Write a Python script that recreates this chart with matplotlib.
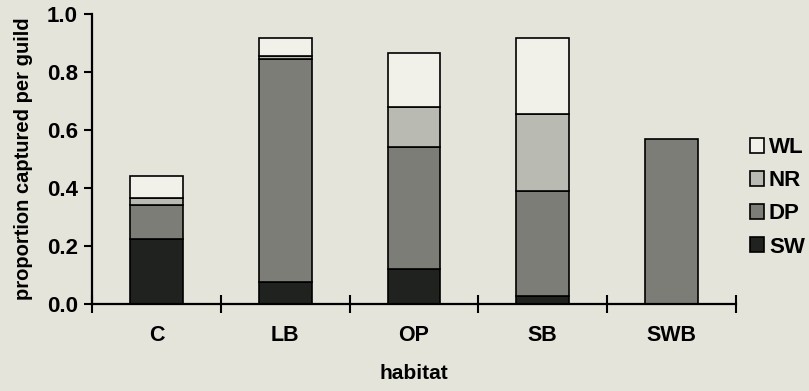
import matplotlib
matplotlib.use("Agg")
import matplotlib.pyplot as plt
import numpy as np

plt.rcParams['font.family'] = ['Liberation Sans', 'DejaVu Sans']
plt.rcParams['font.weight'] = 'bold'

habitats = ["C", "LB", "OP", "SB", "SWB"]
guilds = ["SW", "DP", "NR", "WL"]
sw = [0.225, 0.077, 0.120, 0.028, 0.0]
dp = [0.115, 0.767, 0.422, 0.362, 0.568]
nr = [0.027, 0.011, 0.138, 0.265, 0.0]
wl = [0.074, 0.062, 0.184, 0.263, 0.0]
series = [sw, dp, nr, wl]
colors = ["#1f221f", "#7c7d76", "#b9bab2", "#f1f1ea"]
yticks = [0.0, 0.2, 0.4, 0.6, 0.8, 1.0]

bg = "#e4e4da"
fig = plt.figure(figsize=(8.09, 3.91), dpi=100, facecolor=bg)
ax = fig.add_axes([92/809, 1-304/391, (736-92)/809, (304-14)/391])
ax.set_facecolor(bg)

x = np.arange(len(habitats))
bottom = np.zeros(len(habitats))
handles = []
for vals, col, name in zip(series, colors, guilds):
    vals = np.array(vals)
    mask = vals > 0
    b = ax.bar(x[mask], vals[mask], bottom=bottom[mask], width=0.41, color=col,
               edgecolor="black", linewidth=1.2, label=name, zorder=2)
    handles.append(b)
    bottom += vals

ax.set_xlim(-0.5, 4.5)
ax.set_ylim(0, 1.0)
ax.set_yticks(yticks)
ax.set_yticklabels([f"{v:.1f}" for v in yticks])
ax.set_xticks(x)
ax.set_xticklabels(habitats)
ax.set_xticks(np.arange(-0.5, 5.0, 1.0), minor=True)
ax.tick_params(axis='x', which='major', length=0, pad=15, labelsize=15.5)
ax.tick_params(axis='x', which='minor', direction='inout', length=13, width=1.5)
ax.tick_params(axis='y', which='major', direction='out', length=6, width=1.5, pad=4, labelsize=16)
for s in ['top', 'right']:
    ax.spines[s].set_visible(False)
for s in ['left', 'bottom']:
    ax.spines[s].set_linewidth(1.6)

ax.set_xlabel("habitat", fontsize=15, fontweight='bold', labelpad=13)
ax.set_ylabel("proportion captured per guild", fontsize=14.5, fontweight='bold', labelpad=10)

leg = fig.legend(handles[::-1], guilds[::-1], loc='upper left',
                 bbox_to_anchor=(750/809, 1-137/391), frameon=False,
                 fontsize=16, handlelength=0.65, handleheight=0.65,
                 handletextpad=0.2, labelspacing=0.55, borderpad=0, borderaxespad=0)
for t in leg.get_texts():
    t.set_fontweight('bold')

fig.savefig("out.png", dpi=100, facecolor=bg)
